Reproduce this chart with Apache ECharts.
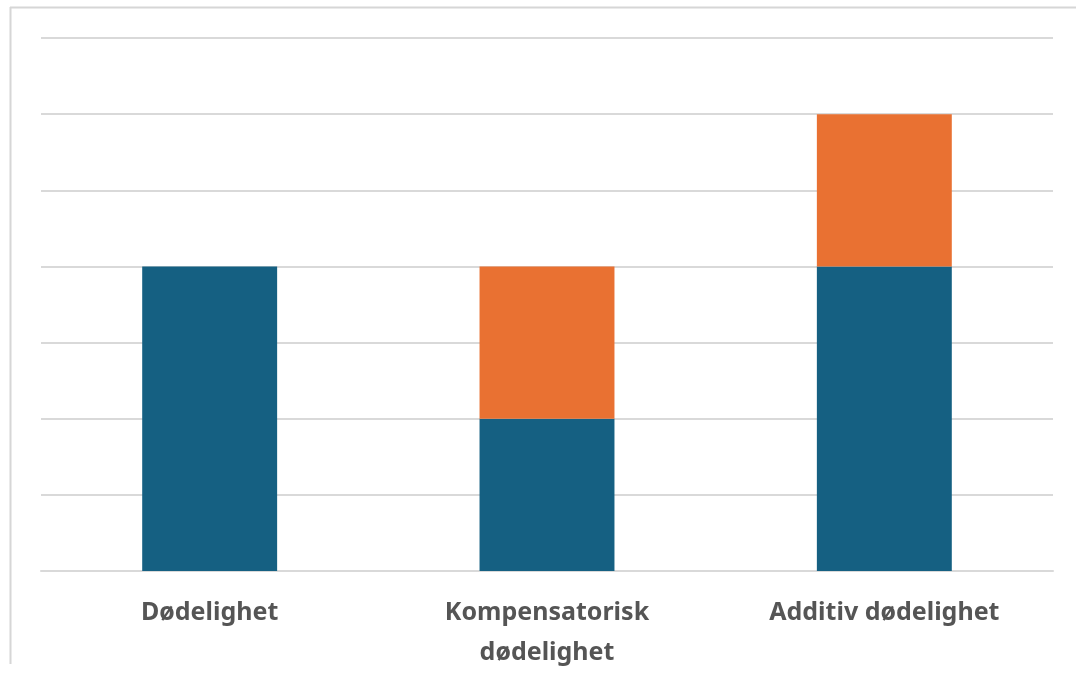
<!DOCTYPE html>
<html>
<head>
<meta charset="utf-8">
<script src="https://cdn.jsdelivr.net/npm/echarts@6/dist/echarts.min.js"></script>
<style>
html,body{margin:0;padding:0;background:#fff;}
#chart{width:1076px;height:684px;}
</style>
</head>
<body>
<div id="chart"></div>
<script>
const categories = ['Dødelighet', 'Kompensatorisk\ndødelighet', 'Additiv dødelighet'];
const baseValues = [4, 2, 4];
const extraValues = [0, 2, 2];
const yMin = 0, yMax = 7, yInterval = 1;

const chart = echarts.init(document.getElementById('chart'), null, {renderer: 'canvas'});
chart.setOption({
  backgroundColor: '#ffffff',
  animation: false,
  graphic: [
    {type: 'line', shape: {x1: 10, y1: 7.5, x2: 1076, y2: 7.5}, style: {stroke: '#d6d6d6', lineWidth: 2}},
    {type: 'line', shape: {x1: 10.5, y1: 7, x2: 10.5, y2: 664}, style: {stroke: '#d6d6d6', lineWidth: 2}}
  ],
  grid: {left: 41, right: 23, top: 38, bottom: 113, containLabel: false},
  xAxis: {
    type: 'category',
    data: categories,
    axisLine: {show: true, lineStyle: {color: '#d9d9d9', width: 2}},
    axisTick: {show: false},
    axisLabel: {
      color: '#555555', fontSize: 25, fontWeight: 'bold',
      fontFamily: 'Noto Sans, sans-serif', margin: 22, lineHeight: 40, interval: 0
    }
  },
  yAxis: {
    type: 'value', min: yMin, max: yMax, interval: yInterval,
    axisLabel: {show: false}, axisLine: {show: false}, axisTick: {show: false},
    splitLine: {lineStyle: {color: '#d9d9d9', width: 2}}
  },
  series: [
    {name: 'base', type: 'bar', stack: 's', data: baseValues, barWidth: '40%',
     itemStyle: {color: '#156082'}},
    {name: 'extra', type: 'bar', stack: 's', data: extraValues, barWidth: '40%',
     itemStyle: {color: '#E97132'}}
  ]
});
</script>
</body>
</html>
